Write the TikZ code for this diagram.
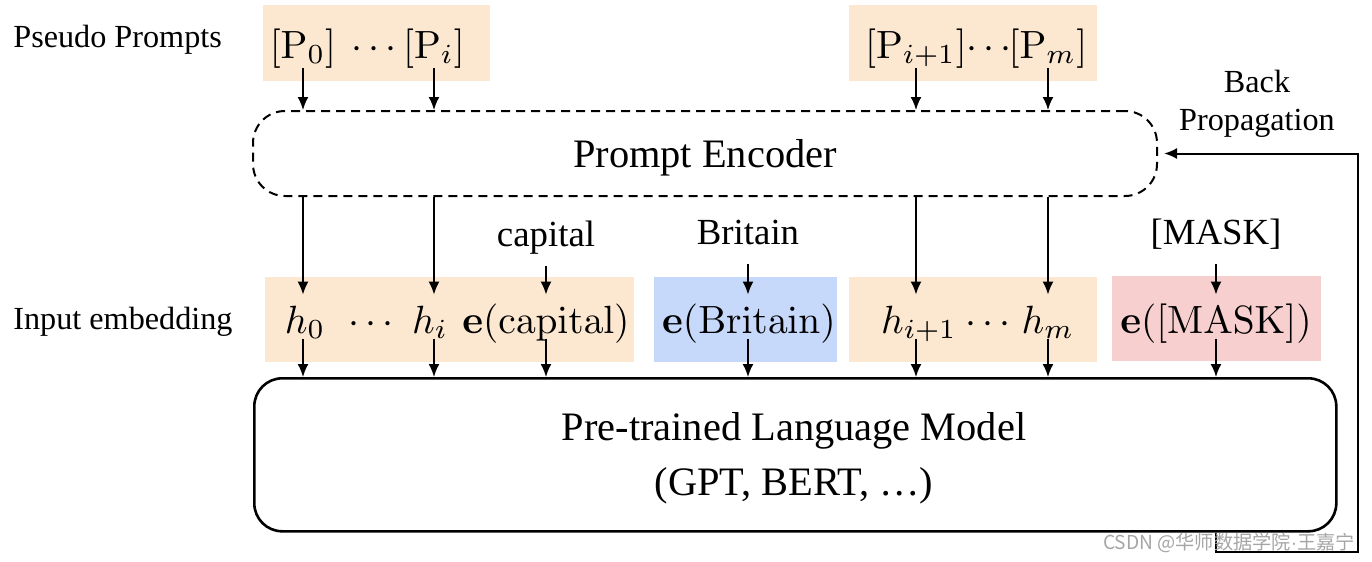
\RequirePackage{fix-cm}
\documentclass[tikz,border=0pt]{standalone}
\usepackage{graphicx}
\usepackage[no-math]{fontspec}
\setmainfont{Liberation Serif}
\newfontfamily\cjkfont{Noto Sans CJK SC}
\usetikzlibrary{arrows.meta}
\definecolor{orf}{RGB}{252,232,208}
\definecolor{blf}{RGB}{198,217,250}
\definecolor{rdf}{RGB}{248,207,207}
\definecolor{wmk}{RGB}{165,165,165}
\newcommand\FSbig{\fontsize{20.2}{27.5}\selectfont}
\newcommand\FSword{\fontsize{18.4}{22}\selectfont}
\newcommand\FSsmall{\fontsize{16.1}{19}\selectfont}
\newcommand\FSmath{\fontsize{10}{12}\selectfont}
\newcommand\MT[1]{\scalebox{1.97}{$#1$}}
\begin{document}
\begin{tikzpicture}[x=0.5pt,y=-0.5pt,
  arr/.style={line width=0.9pt,-{Latex[length=6.5pt,width=5.5pt]}},
  bg/.style={draw=none,inner sep=0pt,outer sep=0pt,anchor=north west},
  tok/.style={inner sep=0pt,anchor=base,font=\FSmath,text height=19pt,text depth=3pt},
  ptok/.style={inner sep=0pt,anchor=base,font=\FSmath,text depth=5pt},
  word/.style={inner sep=0pt,anchor=base,font=\FSword,text depth=10pt},
  lab/.style={inner sep=0pt,anchor=base west,font=\FSsmall},
  ]
\useasboundingbox (0,0) rectangle (1372,562);

% background boxes
\node[bg,fill=orf,minimum width=113.5pt,minimum height=38pt] (btl) at (263,5) {};
\node[bg,fill=orf,minimum width=124pt,minimum height=38pt] (btr) at (849,5) {};
\node[bg,fill=orf,minimum width=184.5pt,minimum height=42.5pt] (bml) at (265,277) {};
\node[bg,fill=blf,minimum width=91.5pt,minimum height=42.5pt] (bmb) at (654,277) {};
\node[bg,fill=orf,minimum width=124pt,minimum height=42.5pt] (bmr) at (849,277) {};
\node[bg,fill=rdf,minimum width=104.5pt,minimum height=42.5pt] (bmk) at (1112,276) {};

% encoder and language model
\node[draw,dashed,dash pattern=on 4.5pt off 3pt,line width=1pt,rounded corners=16pt,
      minimum width=452pt,minimum height=42.5pt,anchor=north west,inner sep=0pt]
      (pe) at (252,110) {};
\node[font=\FSbig] (pet) at ([yshift=-2pt]pe.center) {Prompt Encoder};
\node[draw,line width=1.3pt,rounded corners=14pt,
      minimum width=541pt,minimum height=76.5pt,anchor=north west,inner sep=0pt]
      (lm) at (253,377) {};
\node[font=\FSbig,align=center,inner sep=0pt] (lmt) at (794,458)
      {Pre-trained Language Model\\(GPT, BERT, …)};

% left labels
\node[lab] (lpp) at (13,47) {Pseudo Prompts};
\node[lab] (lie) at (13,329) {Input embedding};
\node[font=\FSsmall,align=center,inner sep=0pt] (lbp) at (1257,104) {Back\\Propagation};

% pseudo prompt tokens
\node[ptok] (p0) at (303,58) {\MT{[\mathrm{P}_0]}};
\node[ptok] (pd1) at (374,58) {\MT{\cdots}};
\node[ptok] (pi) at (434,58) {\MT{[\mathrm{P}_i]}};
\node[ptok] (pi1) at (916,58) {\MT{[\mathrm{P}_{i+1}]}};
\node[ptok] (pd2) at (989,58) {\MT{\cdots}};
\node[ptok] (pm) at (1048,58) {\MT{[\mathrm{P}_m]}};

% words
\node[word] (wcap) at (546,246) {capital};
\node[word] (wbri) at (748,244) {Britain};
\node[word] (wmask) at (1216,244) {[MASK]};

% input embedding tokens
\node[tok] (h0) at (305,333) {\MT{h_0}};
\node[tok] (hd1) at (371,333) {\MT{\cdots}};
\node[tok] (hi) at (430,333) {\MT{h_i}};
\node[tok] (ecap) at (546,333) {\MT{\mathbf{e}(\mathrm{capital})}};
\node[tok] (ebri) at (749,333) {\MT{\mathbf{e}(\mathrm{Britain})}};
\node[tok] (hi1) at (919,333) {\MT{h_{i+1}}};
\node[tok] (hd2) at (988,333) {\MT{\cdots}};
\node[tok] (hm) at (1048,333) {\MT{h_m}};
\node[tok] (emask) at (1216,333) {\MT{\mathbf{e}([\mathrm{MASK}])}};

% arrows: pseudo prompts -> encoder
\foreach \n in {p0,pi,pi1,pm}{
  \draw[arr] (\n.south) -- (\n.south |- pe.north);
}
% encoder -> hidden
\draw[arr] (pe.south -| p0) -- (h0.north -| p0);
\draw[arr] (pe.south -| pi) -- (hi.north -| pi);
\draw[arr] (pe.south -| pi1) -- (hi1.north -| pi1);
\draw[arr] (pe.south -| pm) -- (hm.north -| pm);
% words -> embeddings
\draw[arr] (wcap.south) -- (ecap.north -| wcap);
\draw[arr] (wbri.south) -- (ebri.north -| wbri);
\draw[arr] (wmask.south) -- (emask.north -| wmask);
% embeddings -> LM
\draw[arr] (h0.south -| p0) -- (lm.north -| p0);
\draw[arr] (hi.south -| pi) -- (lm.north -| pi);
\draw[arr] (ecap.south -| wcap) -- (lm.north -| wcap);
\draw[arr] (ebri.south -| wbri) -- (lm.north -| wbri);
\draw[arr] (hi1.south -| pi1) -- (lm.north -| pi1);
\draw[arr] (hm.south -| pm) -- (lm.north -| pm);
\draw[arr] (emask.south -| wmask) -- (lm.north -| wmask);

% back propagation
\coordinate (bpc) at (1358,552);
\draw[arr,line width=1pt,shorten >=3pt] (lm.south -| wmask) |- (bpc) |- (pe.east);

% watermark
\node[font=\cjkfont\fontsize{9.6}{11}\selectfont,text=wmk,inner sep=0pt] (wm) at (1229,543)
      {CSDN @华师数据学院{\fontspec{Liberation Sans}·}王嘉宁};
\end{tikzpicture}
\end{document}
